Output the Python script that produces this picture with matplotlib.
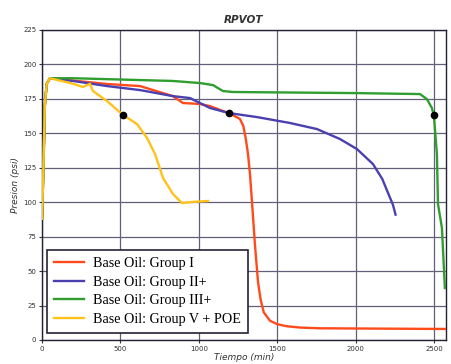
import matplotlib
matplotlib.use("Agg")
import matplotlib.pyplot as plt

# Data (time in min, pressure in psi)
red_t = [0, 8, 18, 30, 51, 415, 625, 835, 899, 1008, 1071, 1154, 1193, 1263, 1285, 1300, 1314, 1327, 1339, 1358, 1378, 1395, 1415, 1454, 1500, 1560, 1650, 1773, 2577]
red_p = [88, 120, 170, 186, 190, 185.8, 184.3, 177, 172, 171.3, 169.8, 166.2, 164.7, 160.4, 155, 146, 135, 120, 100.9, 69.7, 42, 29, 20, 14, 11.5, 10, 9, 8.5, 8]

blue_t = [0, 8, 18, 30, 51, 198, 415, 625, 835, 944, 1071, 1193, 1371, 1582, 1754, 1900, 2009, 2111, 2170, 2210, 2239, 2255]
blue_p = [88, 120, 170, 186, 190, 188, 184.3, 181.4, 177, 175.6, 168.4, 164.7, 161.8, 157.5, 153.1, 145.9, 138.6, 127.7, 117, 106, 98, 91]

green_t = [0, 8, 18, 30, 51, 198, 835, 1008, 1091, 1154, 1218, 2003, 2411, 2455, 2487, 2500, 2519, 2526, 2551, 2570]
green_p = [88, 120, 170, 186, 190, 190, 188, 186.5, 185, 180.7, 180, 179.2, 178.5, 174.9, 168.4, 162.6, 135, 98.7, 81.3, 37.7]

yellow_t = [0, 8, 18, 30, 51, 198, 261, 306, 325, 415, 517, 606, 670, 721, 772, 835, 893, 960, 1059]
yellow_p = [88, 120, 170, 186, 190, 186, 183.6, 186, 180.7, 173.4, 163.3, 156.8, 146.6, 135, 117.6, 106, 99.4, 100.2, 100.9]

dot_t = [517, 1193, 2500]
dot_p = [163.5, 164.5, 163.0]

labels = ["Base Oil: Group I", "Base Oil: Group II+", "Base Oil: Group III+", "Base Oil: Group V + POE"]
colors = ["#ff4a1c", "#4a40b0", "#2f9e2f", "#ffc21a"]

x_ticks = [0, 500, 1000, 1500, 2000, 2500]
y_ticks = [0, 25, 50, 75, 100, 125, 150, 175, 200, 225]

fig = plt.figure(figsize=(4.51, 3.64), dpi=100)
ax = fig.add_axes([42/451, 24/364, 404/451, 310/364])

series = [(red_t, red_p), (blue_t, blue_p), (green_t, green_p), (yellow_t, yellow_p)]
for (t, p), c, lab in zip(series, colors, labels):
    ax.plot(t, p, color=c, lw=1.7, label=lab, zorder=3, solid_joinstyle='round')

ax.plot(dot_t, dot_p, 'o', color='black', ms=4.5, zorder=5)

ax.set_xlim(0, 2577)
ax.set_ylim(0, 225)
ax.set_xticks(x_ticks)
ax.set_yticks(y_ticks)
ax.tick_params(labelsize=5, length=2.5, width=0.8, pad=1.5, colors='#333333')
ax.grid(True, color='#606078', lw=0.9, zorder=0)
for s in ax.spines.values():
    s.set_color('#222233')
    s.set_linewidth(1.0)

ax.set_title("RPVOT", fontsize=7.5, fontstyle='italic', fontweight='bold', pad=5, color='#333333')
ax.set_xlabel("Tiempo (min)", fontsize=6.5, fontstyle='italic', labelpad=1, color='#333333')
ax.set_ylabel("Presion (psi)", fontsize=6.5, fontstyle='italic', labelpad=2, color='#333333')

leg = ax.legend(loc='lower left', bbox_to_anchor=(0.013, 0.022), borderaxespad=0,
                prop={'family': 'Liberation Serif', 'size': 10.2},
                fancybox=False, edgecolor='#222233', framealpha=1,
                handlelength=2.1, labelspacing=0.4, borderpad=0.5, handletextpad=0.6)
leg.get_frame().set_linewidth(1.2)
leg.set_zorder(6)

fig.savefig("out.png", dpi=100)
